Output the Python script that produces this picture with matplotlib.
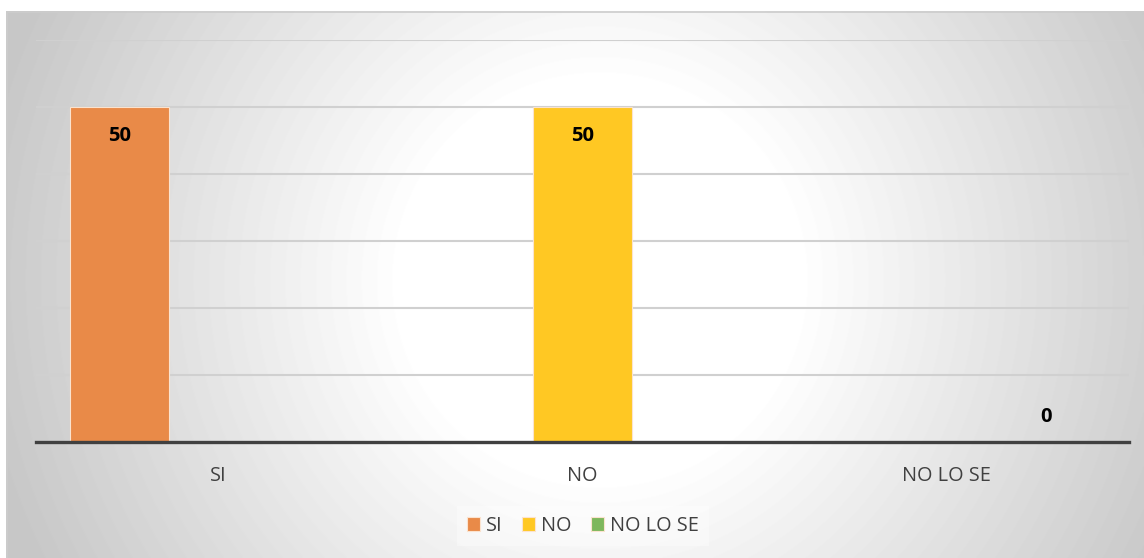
import numpy as np
import matplotlib
matplotlib.use("Agg")
import matplotlib.pyplot as plt

plt.rcParams['font.family'] = ['Open Sans', 'DejaVu Sans']

# data
categories = ['SI', 'NO', 'NO LO SE']
series_names = ['SI', 'NO', 'NO LO SE']
si_vals = [50, None, None]
no_vals = [None, 50, None]
nolose_vals = [None, None, 0]
series_colors = ['#E98A48', '#FFC823', '#7EB75C']

W, H = 1144, 558
fig = plt.figure(figsize=(W / 100, H / 100), dpi=100)

# radial gradient background of the chart area
bg = fig.add_axes([6 / W, 0, (W - 6) / W, (H - 11) / H])
yy, xx = np.mgrid[11:H, 6:W]
d = np.hypot(xx - 600, yy - 280)
t = np.clip((d - 200) / 430, 0, 1)
shade = 1 - 0.22 * t
bg.imshow(shade, cmap='gray', vmin=0, vmax=1, aspect='auto', extent=[0, 1, 0, 1])
bg.set_xlim(0, 1)
bg.set_ylim(0, 1)
bg.axis('off')
bg.plot([0, 1], [0.999, 0.999], color='#cccccc', lw=1.2)
bg.plot([0.001, 0.001], [0, 1], color='#cccccc', lw=1.2)

ax = fig.add_axes([36 / W, (H - 442) / H, (1129 - 36) / W, (442 - 40) / H])
ax.patch.set_alpha(0)

x = np.arange(len(categories))
bw = 0.272
offsets = [-bw, 0, bw]
all_vals = [si_vals, no_vals, nolose_vals]
for k, (vals, name, col) in enumerate(zip(all_vals, series_names, series_colors)):
    xs = [x[i] + offsets[k] for i, v in enumerate(vals) if v is not None]
    vs = [v for v in vals if v is not None]
    ax.bar(xs, vs, width=bw, color=col, edgecolor='#fbe3cf', linewidth=0.8,
           label=name, zorder=3)
    for xi, v in zip(xs, vs):
        if v > 0:
            ax.annotate(str(v), (xi, v), xytext=(0, -21), textcoords='offset points',
                        ha='center', va='center', fontsize=14.5, fontweight='bold',
                        color='black', zorder=4)
        else:
            ax.annotate(str(v), (xi, v), xytext=(0, 18), textcoords='offset points',
                        ha='center', va='center', fontsize=14.5, fontweight='bold',
                        color='black', zorder=4)

ax.set_xlim(-0.5, 2.5)
ax.set_ylim(0, 60)
ax.set_yticks(np.arange(10, 61, 10))
ax.yaxis.grid(True, color='#d0d0d0', lw=1.5, zorder=0)
ax.tick_params(axis='y', left=False, labelleft=False)
ax.set_xticks(x)
ax.set_xticklabels(categories, fontsize=14.3, color='#404040')
ax.tick_params(axis='x', length=0, pad=17)
for s in ['top', 'right', 'left']:
    ax.spines[s].set_visible(False)
ax.spines['bottom'].set_color('#404040')
ax.spines['bottom'].set_linewidth(2.4)
ax.spines['bottom'].set_zorder(5)

leg = fig.legend(loc='center', bbox_to_anchor=(583 / W, (H - 526) / H), ncol=3,
                 fontsize=14.3, handlelength=0.65, handleheight=0.65,
                 handletextpad=0.3, columnspacing=1.0, frameon=True,
                 fancybox=False, borderpad=0.5)
leg.get_frame().set_facecolor('white')
leg.get_frame().set_alpha(0.35)
leg.get_frame().set_linewidth(0)
for txt in leg.get_texts():
    txt.set_color('#404040')

fig.savefig('out.png', dpi=100)
